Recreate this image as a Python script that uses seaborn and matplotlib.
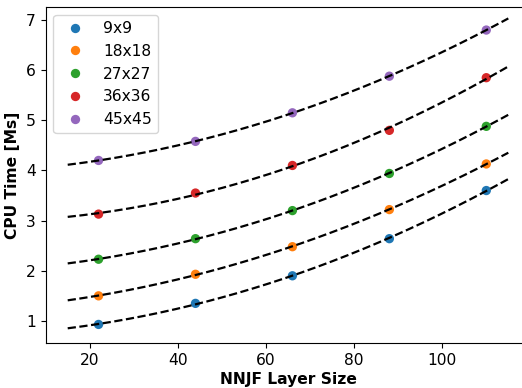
import numpy as np
import pandas as pd
import matplotlib
matplotlib.use("Agg")
import matplotlib.pyplot as plt
import seaborn as sns

layer_sizes = [22, 44, 66, 88, 110]
grid_labels = ["9x9", "18x18", "27x27", "36x36", "45x45"]
cpu_9 = [0.93, 1.35, 1.90, 2.64, 3.60]
cpu_18 = [1.50, 1.93, 2.48, 3.22, 4.13]
cpu_27 = [2.23, 2.64, 3.20, 3.94, 4.88]
cpu_36 = [3.13, 3.55, 4.10, 4.80, 5.85]
cpu_45 = [4.20, 4.58, 5.15, 5.88, 6.80]
series = [cpu_9, cpu_18, cpu_27, cpu_36, cpu_45]

rows = []
for lab, vals in zip(grid_labels, series):
    for x, y in zip(layer_sizes, vals):
        rows.append({"size": x, "cpu": y, "grid": lab})
df = pd.DataFrame(rows)

plt.rcParams["font.family"] = ["DejaVu Sans"]
fs = 11.2
fig = plt.figure(figsize=(5.22, 3.88), dpi=100)
ax = fig.add_axes([0.0875, 0.116, 1.016 - 0.0875, 0.982 - 0.116])

palette = sns.color_palette("tab10", 5)
sns.scatterplot(data=df, x="size", y="cpu", hue="grid", palette=palette,
                s=45, ax=ax, zorder=2, linewidth=0)

xfit = np.linspace(15, 115, 200)
for vals in series:
    c = np.polyfit(layer_sizes, vals, 2)
    ax.plot(xfit, np.polyval(c, xfit), "k--", lw=1.6, zorder=3)

ax.set_xlim(10, 120)
ax.set_ylim(0.56, 7.26)
ax.set_xticks([20, 40, 60, 80, 100])
ax.set_yticks([1, 2, 3, 4, 5, 6, 7])
ax.tick_params(labelsize=fs)
ax.set_xlabel("NNJF Layer Size", fontsize=fs, fontweight="bold", labelpad=3)
ax.set_ylabel("CPU Time [Ms]", fontsize=fs, fontweight="bold")
ax.legend(loc="upper left", fontsize=fs, title=None, labelspacing=0.5)

fig.savefig("out.png", dpi=100)
